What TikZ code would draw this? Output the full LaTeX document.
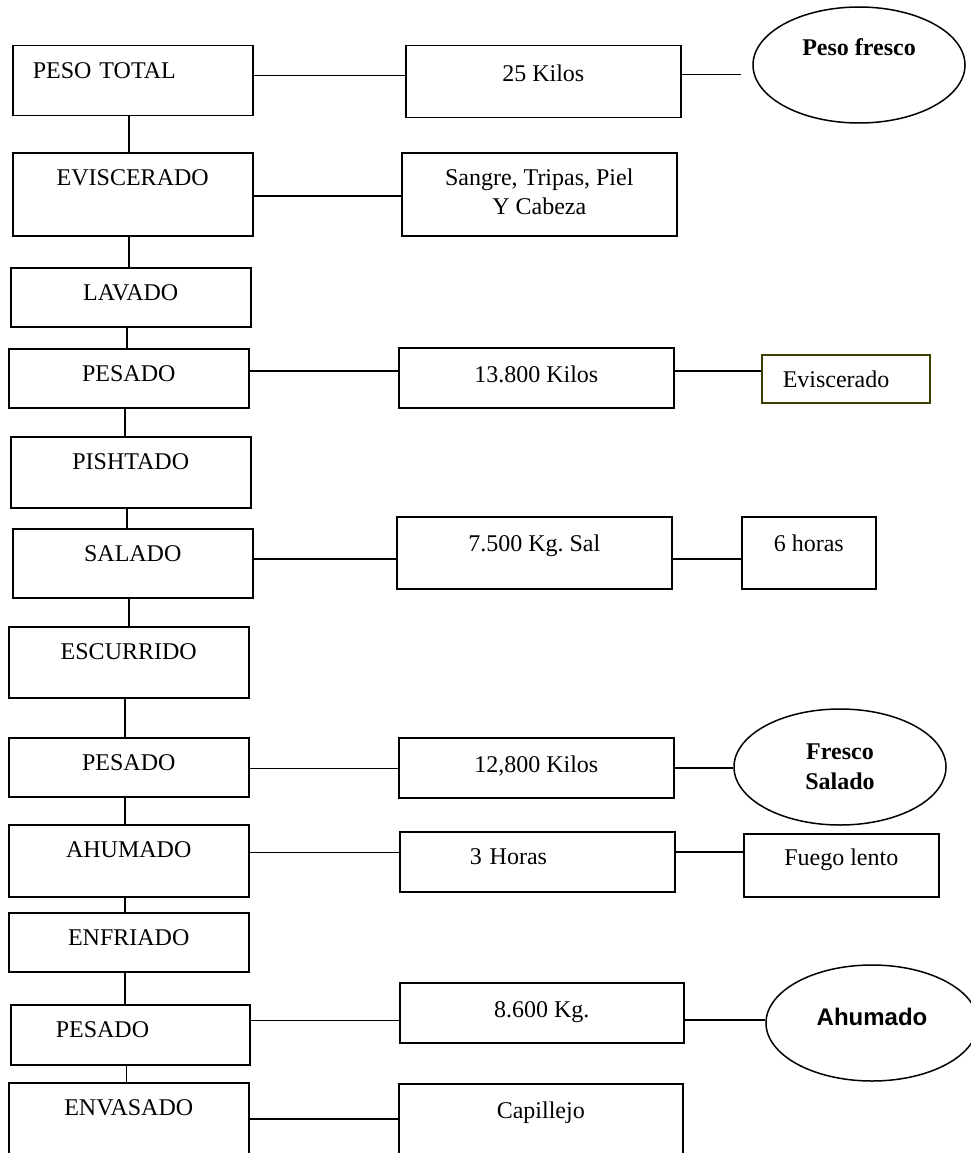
\documentclass[tikz,border=0pt]{standalone}
\usepackage{fontspec}
\setmainfont{Liberation Serif}
\newfontfamily\arialfont{Liberation Sans}
\usetikzlibrary{shapes.geometric}
\definecolor{oliva}{RGB}{60,60,0}
\frenchspacing

\begin{document}
\begin{tikzpicture}[x=1pt, y=-1pt, line width=1.5pt,
        font=\fontsize{24}{29}\selectfont,
        caja/.style={draw, inner sep=0pt, anchor=north west, text height=33pt, align=center},
        ovalo/.style={draw, ellipse, inner sep=0pt, minimum width=212pt, minimum height=116pt,
                      align=center, font=\fontsize{24}{30}\selectfont\bfseries}
    ]
        \useasboundingbox (0,0) rectangle (971,1153);
        \clip (0,0) rectangle (971,1153);
        \node[caja, minimum width=240pt, text depth=37pt, text width=200pt, inner xsep=20pt, align=left] (pesototal) at (12,45) {PESO TOTAL};
        \foreach \n/\x/\y/\d/\t in {
            eviscerado/12/152/50/EVISCERADO,
            lavado/10/267/26/LAVADO,
            pesadoA/8/348/26/PESADO,
            pishtado/10/436/38/PISHTADO,
            salado/12/528/36/SALADO,
            escurrido/8/626/38/ESCURRIDO,
            pesadoB/8/737/26/PESADO,
            ahumado/8/824/39/AHUMADO,
            enfriado/8/912/26/ENFRIADO,
            envasado/8/1082/42/ENVASADO}
        {
            \node[caja, minimum width=240pt, text depth=\d pt] (\n) at (\x,\y) {\t};
        }
        \node[caja, minimum width=239pt, text depth=27pt, text width=149pt, inner xsep=45pt, align=left] (pesadoC) at (10,1004) {PESADO};

        \node[caja, minimum width=275pt, text height=36pt, text depth=36pt] (kilos) at (405,45) {25 Kilos};
        \node[caja, minimum width=275pt, text height=62pt, text depth=21pt] (restos) at (401,152) {Sangre, Tripas, Piel\\Y Cabeza};
        \node[caja, minimum width=275pt, text height=35pt, text depth=25pt] (kilosA) at (398,347) {13.800 Kilos};
        \node[caja, draw=oliva, minimum width=168pt, text depth=15pt, text width=126pt, inner xsep=21pt, align=left] (evisc) at (761,354) {Eviscerado};
        \node[caja, minimum width=275pt, text height=35pt, text depth=37pt] (sal) at (396,516) {7.500 Kg. Sal};
        \node[caja, minimum width=134pt, text height=35pt, text depth=37pt] (seis) at (741,516) {6 horas};
        \node[caja, minimum width=275pt, text height=35pt, text depth=25pt] (kilosB) at (398,737) {12,800 Kilos};
        \node[caja, minimum width=275pt, text depth=27pt, text width=135pt, inner xsep=70pt, align=left] (tres) at (399,831) {3 Horas};
        \node[caja, minimum width=195pt, text height=32pt, text depth=31pt] (fuego) at (743,833) {Fuego lento};
        \node[caja, minimum width=284pt, text height=35pt, text depth=25pt] (kilosC) at (399,982) {8.600 Kg.};
        \node[caja, minimum width=284pt, text height=35pt, text depth=40pt] (capillejo) at (398,1083) {Capillejo};

        \node[ovalo, text height=17pt, text depth=35pt] (fresco) at (859,65) {Peso fresco};
        \node[ovalo] (frescosal) at (840,767) {Fresco\\Salado};
        \node[ovalo, font=\fontsize{24}{30}\selectfont\arialfont\bfseries, text height=18pt, text depth=14pt] (ahumadoov) at (872,1023) {Ahumado};

        \foreach \a/\b in {pesototal/eviscerado, eviscerado/lavado, lavado/pesadoA, pesadoA/pishtado,
                           pishtado/salado, salado/escurrido, escurrido/pesadoB, pesadoB/ahumado,
                           ahumado/enfriado, enfriado/pesadoC, pesadoC/envasado}
        {
            \draw ([xshift=-4pt]\a.south) -- ([xshift=-4pt]\a.south |- \b.north);
        }
        \foreach \a/\b/\dy in {pesototal/kilos/5, eviscerado/restos/-1.5, pesadoA/kilosA/7.5,
                               salado/sal/4.5, pesadoB/kilosB/-1, ahumado/tres/8.5,
                               pesadoC/kilosC/14.5, envasado/capillejo/1.5, kilosA/evisc/7,
                               sal/seis/-6, kilosB/frescosal/0, tres/fuego/10, kilosC/ahumadoov/-7}
        {
            \draw ([yshift=\dy pt]\a.east) -- ([yshift=\dy pt]\a.east -| \b.west);
        }
        \draw[shorten >=11pt] ([yshift=7pt]kilos.east) -- ([yshift=7pt]kilos.east -| fresco.west);
    \end{tikzpicture}
\end{document}
